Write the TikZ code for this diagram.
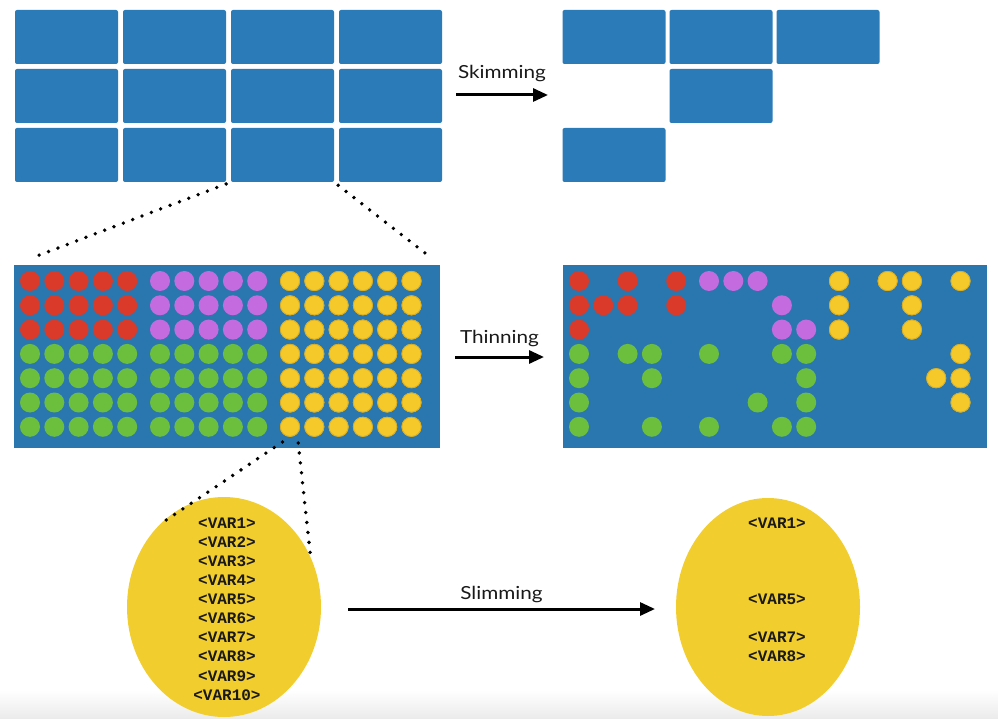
\documentclass[tikz,border=0pt]{standalone}
\usepackage{fontspec}
\setmainfont{Lato}
\newfontfamily\labelfont[FakeStretch=1.15]{Lato}
\newfontfamily\varfont{Liberation Mono}
\usetikzlibrary{arrows.meta, shapes.geometric, positioning}
\definecolor{tileblue}{HTML}{2B7BB8}
\definecolor{panelblue}{HTML}{2A77AF}
\definecolor{dotred}{HTML}{D93A29}
\definecolor{dotpurple}{HTML}{C46BDF}
\definecolor{dotgreen}{HTML}{6BBF3C}
\definecolor{dotyellow}{HTML}{F6C92B}
\definecolor{ringyellow}{HTML}{DDAE1E}
\definecolor{blobyellow}{HTML}{F2CD2E}

\begin{document}
\begin{tikzpicture}[x=1pt, y=-1pt,
    tilebox/.style={rectangle, rounded corners=2pt, fill=tileblue, minimum width=103pt, minimum height=54pt, inner sep=0pt},
    panel/.style={rectangle, fill=panelblue, minimum height=183pt, inner sep=0pt},
    ball/.style={circle, minimum size=20pt, inner sep=0pt},
    blob/.style={ellipse, fill=blobyellow, inner sep=0pt},
    var/.style={font=\varfont\bfseries\fontsize{16}{16}\selectfont, text=black!90, inner sep=0pt},
    lbl/.style={font=\labelfont\fontsize{18}{18}\selectfont, text=black!90, inner sep=0pt},
    flow/.style={line width=3pt, -{Triangle[length=15pt, width=13pt]}},
    zoomline/.style={line width=3.8pt, line cap=round, dash pattern=on 0pt off 10pt}]
    \useasboundingbox (0,0) rectangle (998,719);
    \shade[top color=white, bottom color=black!8] (0,690) rectangle (998,719);

    % skimming
    \foreach \r in {1,2,3}
        \foreach \c in {1,...,4}
            \node[tilebox] (L-\r-\c) at ({66.5+108*(\c-1)}, {37+59*(\r-1)}) {};
    \foreach \r/\c in {1/1, 1/2, 1/3, 2/2, 3/1}
        \node[tilebox] (R-\r-\c) at ({614+107*(\c-1)}, {37+59*(\r-1)}) {};
    \coordinate (skim-a) at (456,95);
    \coordinate (skim-b) at (548,95);
    \draw[flow] (skim-a) -- node[lbl, above=12pt] (skim-txt) {Skimming} (skim-b);

    % thinning
    \node[panel, minimum width=426pt] (thin-L) at (227,356.5) {};
    \node[panel, minimum width=424pt] (thin-R) at (775,356.5) {};
    \foreach \c in {1,...,16}{
        \pgfmathsetmacro\dx{16+24.3*(\c-1)+8.5*(\c>5)+8.5*(\c>10)}
        \foreach \r in {1,...,7}{
            \pgfmathsetmacro\dy{281+24.3*(\r-1)}
            \ifnum\c>10 \def\tone{dotyellow}\else\ifnum\r>3 \def\tone{dotgreen}\else\ifnum\c>5 \def\tone{dotpurple}\else\def\tone{dotred}\fi\fi\fi
            \node[ball, fill=\tone] (dL-\c-\r) at (14+\dx, \dy) {};
        }
    }
    \foreach \c in {11,...,16}
        \foreach \r in {1,...,7}
            \draw[ringyellow, line width=0.8pt] (dL-\c-\r) circle (9.6pt);
    \foreach \tone/\spots in {
        dotred/{1/1, 3/1, 5/1, 1/2, 2/2, 3/2, 5/2, 1/3},
        dotpurple/{6/1, 7/1, 8/1, 9/2, 9/3, 10/3},
        dotgreen/{1/4, 3/4, 4/4, 6/4, 9/4, 10/4, 1/5, 4/5, 10/5, 1/6, 8/6, 10/6, 1/7, 4/7, 6/7, 9/7, 10/7},
        dotyellow/{11/1, 13/1, 14/1, 16/1, 11/2, 14/2, 11/3, 14/3, 16/4, 15/5, 16/5, 16/6}}{
        \foreach \c/\r in \spots{
            \pgfmathsetmacro\dx{16+24.3*(\c-1)+8.5*(\c>5)+8.5*(\c>10)}
            \pgfmathsetmacro\dy{281+24.3*(\r-1)}
            \node[ball, fill=\tone] (dR-\c-\r) at (563+\dx, \dy) {};
            \ifnum\c>10 \draw[ringyellow, line width=0.8pt] (dR-\c-\r) circle (9.6pt);\fi
        }
    }
    \coordinate (thin-a) at (455,357);
    \coordinate (thin-b) at (544,357);
    \draw[flow] (thin-a) -- node[lbl, above=9pt] (thin-txt) {Thinning} (thin-b);

    % slimming
    \node[blob, minimum width=194pt, minimum height=220pt] (vars-L) at (224,607) {};
    \node[blob, minimum width=184pt, minimum height=218pt] (vars-R) at (768,607) {};
    \foreach \i in {1,...,10}
        \node[var] (vL-\i) at (227, {523+19.1*(\i-1)}) {<VAR\i>};
    \foreach \i in {1,5,7,8}
        \node[var] (vR-\i) at (777, {523+19.1*(\i-1)}) {<VAR\i>};
    \coordinate (slim-a) at (348,609);
    \coordinate (slim-b) at (655,609);
    \draw[flow] (slim-a) -- node[lbl, above=5pt] (slim-txt) {Slimming} (slim-b);

    % zoom lines
    \draw[zoomline, shorten <=5pt, shorten >=22pt] (L-3-3.south west) -- (thin-L.north west);
    \draw[zoomline, shorten <=5pt, shorten >=11pt] (L-3-3.south east) -- (thin-L.north east);
    \draw[zoomline, shorten <=9pt] (dL-11-7.south) -- (vars-L.128);
    \draw[zoomline, shorten <=9pt] (dL-11-7.south east) -- (vars-L.30);
\end{tikzpicture}
\end{document}
